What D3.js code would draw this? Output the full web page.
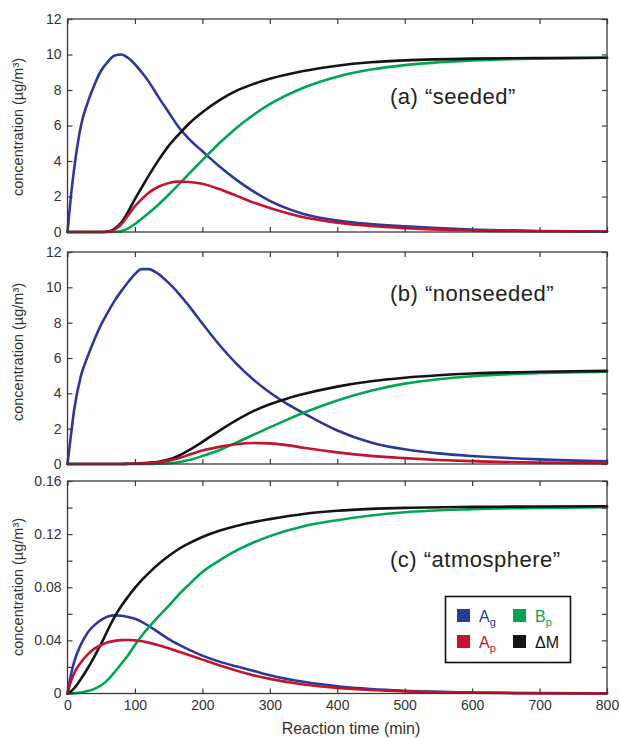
<!DOCTYPE html>
<html>
<head>
<meta charset="utf-8">
<script src="https://cdn.jsdelivr.net/npm/d3@7"></script>
<style>
  html, body { margin: 0; padding: 0; background: #fff; }
  svg { display: block; font-family: "Liberation Sans", Arial, sans-serif; }
</style>
</head>
<body>
<svg id="chart" width="619" height="738"></svg>
<script>
// ---------- data ----------
const timeA = [0,5,10,20,30,40,50,60,70,80,90,100,110,120,135,150,165,180,200,225,250,275,300,350,400,450,500,600,700,800];
const agA = [0,2.0,3.6,6.0,7.3,8.3,9.1,9.6,9.95,10.0,9.8,9.45,9.0,8.5,7.6,6.75,5.9,5.25,4.55,3.7,2.95,2.3,1.75,1.02,0.65,0.45,0.32,0.14,0.06,0.03];
const apA = [0,0,0,0,0,0,0,0.02,0.15,0.45,0.95,1.45,1.85,2.2,2.55,2.76,2.84,2.82,2.72,2.42,2.05,1.67,1.35,0.83,0.53,0.34,0.22,0.09,0.04,0.02];
const bpA = [0,0,0,0,0,0,0,0,0.01,0.05,0.2,0.45,0.75,1.05,1.55,2.1,2.68,3.27,4.05,5.0,5.85,6.58,7.2,8.13,8.75,9.15,9.4,9.66,9.77,9.82];
const dmA = [0,0,0,0,0,0,0,0.03,0.2,0.55,1.15,1.85,2.5,3.15,4.05,4.85,5.5,6.1,6.75,7.42,7.95,8.33,8.63,9.07,9.37,9.56,9.67,9.77,9.8,9.82];

const timeB = [0,5,10,20,30,40,50,60,70,80,90,100,110,120,135,150,165,180,200,225,250,275,300,325,350,400,450,500,550,600,700,800];
const agB = [0,1.6,3.1,5.0,6.1,7.05,7.9,8.6,9.25,9.8,10.3,10.75,11.03,11.03,10.75,10.25,9.65,8.95,7.95,6.75,5.7,4.8,4.05,3.42,2.88,1.9,1.22,0.83,0.6,0.45,0.26,0.15];
const apB = [0,0,0,0,0,0,0,0,0,0,0.01,0.02,0.03,0.05,0.1,0.19,0.33,0.52,0.76,0.97,1.12,1.19,1.17,1.07,0.92,0.66,0.46,0.33,0.23,0.16,0.08,0.04];
const bpB = [0,0,0,0,0,0,0,0,0,0,0,0,0,0,0.01,0.04,0.1,0.22,0.45,0.78,1.2,1.64,2.07,2.5,2.9,3.6,4.15,4.55,4.8,4.97,5.15,5.23];
const dmB = [0,0,0,0,0,0,0,0,0,0,0.01,0.02,0.04,0.07,0.13,0.25,0.47,0.78,1.25,1.88,2.47,2.98,3.38,3.7,3.96,4.38,4.68,4.88,5.02,5.12,5.22,5.27];

const timeC = [0,5,10,20,30,40,50,60,70,80,90,100,110,120,135,150,165,180,200,225,250,275,300,350,400,450,500,600,700,800];
const agC = [0,0.014,0.024,0.037,0.046,0.0515,0.0555,0.058,0.0588,0.0585,0.0576,0.0563,0.054,0.051,0.046,0.041,0.0368,0.033,0.0285,0.024,0.0205,0.0172,0.0138,0.0088,0.0055,0.0034,0.0021,0.0008,0.0003,0.0001];
const apC = [0,0.009,0.0155,0.0235,0.0295,0.0338,0.0365,0.0385,0.0396,0.0402,0.0403,0.04,0.0393,0.0383,0.0363,0.034,0.0315,0.029,0.0255,0.0212,0.0173,0.0138,0.011,0.0068,0.0042,0.0026,0.0016,0.0006,0.0002,0.0001];
const bpC = [0,0.0001,0.0002,0.0007,0.0018,0.0035,0.0062,0.0105,0.0162,0.0225,0.029,0.0365,0.0435,0.0495,0.058,0.066,0.0745,0.082,0.0915,0.1,0.1075,0.1135,0.1185,0.126,0.1305,0.134,0.1365,0.1388,0.1398,0.1402];
const dmC = [0,0.0015,0.004,0.011,0.019,0.028,0.0375,0.048,0.0578,0.066,0.073,0.0795,0.0853,0.0905,0.0975,0.1035,0.1088,0.113,0.1178,0.1225,0.1262,0.129,0.1313,0.1352,0.1376,0.139,0.1398,0.1405,0.1408,0.141];

const panelLabels = ["(a) \u201cseeded\u201d", "(b) \u201cnonseeded\u201d", "(c) \u201catmosphere\u201d"];
const yMaxes = [12, 12, 0.16];
const xTicks = [0,100,200,300,400,500,600,700,800];
const yTicksAB = [0,2,4,6,8,10,12];
const yTicksC = [0,0.02,0.04,0.06,0.08,0.1,0.12,0.14,0.16];
const yLabelsC = [0,0.04,0.08,0.12,0.16];
const seriesColors = { Ag: "#2b3a98", Ap: "#c4122f", Bp: "#00a650", dM: "#141414" };

// ---------- layout ----------
const svg = d3.select("#chart");
const left = 67.5, right = 607;
const panels = [
  { top: 19,  bottom: 232,   time: timeA, s: { Ag: agA, Ap: apA, Bp: bpA, dM: dmA }, yTicks: yTicksAB, yLab: yTicksAB, labelY: 104, yTitleC: 127 },
  { top: 252, bottom: 464,   time: timeB, s: { Ag: agB, Ap: apB, Bp: bpB, dM: dmB }, yTicks: yTicksAB, yLab: yTicksAB, labelY: 301, yTitleC: 352 },
  { top: 481, bottom: 693.5, time: timeC, s: { Ag: agC, Ap: apC, Bp: bpC, dM: dmC }, yTicks: yTicksC, yLab: yLabelsC, labelY: 567, yTitleC: 587 }
];

const x = d3.scaleLinear().domain([0, 800]).range([left, right]);
const axisColor = "#3a3a3a";

panels.forEach((p, i) => {
  const y = d3.scaleLinear().domain([0, yMaxes[i]]).range([p.bottom, p.top]);
  const fmt = i === 2 ? (d => d === 0 ? "0" : d3.format(".2f")(d)) : d3.format("d");
  const labelSet = new Set(p.yLab.map(v => v.toFixed(4)));

  const g = svg.append("g");

  // curves
  const drawOrder = ["Ag", "Bp", "dM", "Ap"];
  drawOrder.forEach(k => {
    const pts = p.time.map((t, j) => [t, p.s[k][j]]);
    g.append("path")
      .datum(pts)
      .attr("fill", "none")
      .attr("stroke", seriesColors[k])
      .attr("stroke-width", 2.6)
      .attr("stroke-linejoin", "round")
      .attr("stroke-linecap", "round")
      .attr("d", d3.line().x(d => x(d[0])).y(d => y(d[1])).curve(d3.curveMonotoneX));
  });

  // axes (ticks inward)
  const styleAxis = sel => {
    sel.select(".domain").remove();
    sel.selectAll(".tick line").attr("stroke", axisColor).attr("stroke-width", 1.2);
    sel.selectAll(".tick text").attr("fill", "#333").attr("font-size", 14)
      .attr("font-family", "'Liberation Sans', Arial, sans-serif");
  };

  g.append("g").attr("transform", `translate(${left},0)`)
    .call(d3.axisLeft(y).tickValues(p.yTicks).tickSize(-5).tickPadding(6)
      .tickFormat(d => labelSet.has(d.toFixed(4)) ? fmt(d) : ""))
    .call(styleAxis);
  g.append("g").attr("transform", `translate(${right},0)`)
    .call(d3.axisRight(y).tickValues(p.yTicks).tickSize(-5).tickFormat(""))
    .call(styleAxis);
  g.append("g").attr("transform", `translate(0,${p.top})`)
    .call(d3.axisTop(x).tickValues(xTicks).tickSize(-5).tickFormat(""))
    .call(styleAxis);
  g.append("g").attr("transform", `translate(0,${p.bottom})`)
    .call(d3.axisBottom(x).tickValues(xTicks).tickSize(-5).tickPadding(6.5)
      .tickFormat(i === 2 ? d3.format("d") : ""))
    .call(styleAxis);

  // frame
  g.append("rect")
    .attr("x", left).attr("y", p.top)
    .attr("width", right - left).attr("height", p.bottom - p.top)
    .attr("fill", "none").attr("stroke", axisColor).attr("stroke-width", 1.3);

  // panel label
  g.append("text")
    .attr("x", 390).attr("y", p.labelY)
    .attr("font-size", 22).attr("letter-spacing", 0.5).attr("fill", "#222")
    .text(panelLabels[i]);

  // y title
  g.append("text")
    .attr("transform", `translate(23,${p.yTitleC}) rotate(-90)`)
    .attr("text-anchor", "middle")
    .attr("font-size", 14.5).attr("fill", "#333")
    .text("concentration (\u00b5g/m\u00b3)");
});

// x title
svg.append("text")
  .attr("x", 351).attr("y", 734)
  .attr("text-anchor", "middle")
  .attr("font-size", 16).attr("fill", "#333")
  .text("Reaction time (min)");

// legend
const lg = svg.append("g");
lg.append("rect").attr("x", 445.5).attr("y", 596.5).attr("width", 125).attr("height", 66)
  .attr("fill", "#fff").attr("stroke", "#111").attr("stroke-width", 1.6);
const legendItems = [
  { k: "Ag", base: "A", sub: "g", col: 0, row: 0 },
  { k: "Bp", base: "B", sub: "p", col: 1, row: 0 },
  { k: "Ap", base: "A", sub: "p", col: 0, row: 1 },
  { k: "dM", base: "\u0394M", sub: "", col: 1, row: 1 }
];
legendItems.forEach(it => {
  const sx = 457 + it.col * 56, sy = 609 + it.row * 26;
  lg.append("rect").attr("x", sx).attr("y", sy).attr("width", 13).attr("height", 13)
    .attr("fill", seriesColors[it.k]);
  const t = lg.append("text").attr("x", sx + 22).attr("y", sy + 13)
    .attr("font-size", 16).attr("fill", seriesColors[it.k]);
  t.append("tspan").text(it.base);
  if (it.sub) t.append("tspan").attr("font-size", 11).attr("dy", 4).text(it.sub);
});
</script>
</body>
</html>
